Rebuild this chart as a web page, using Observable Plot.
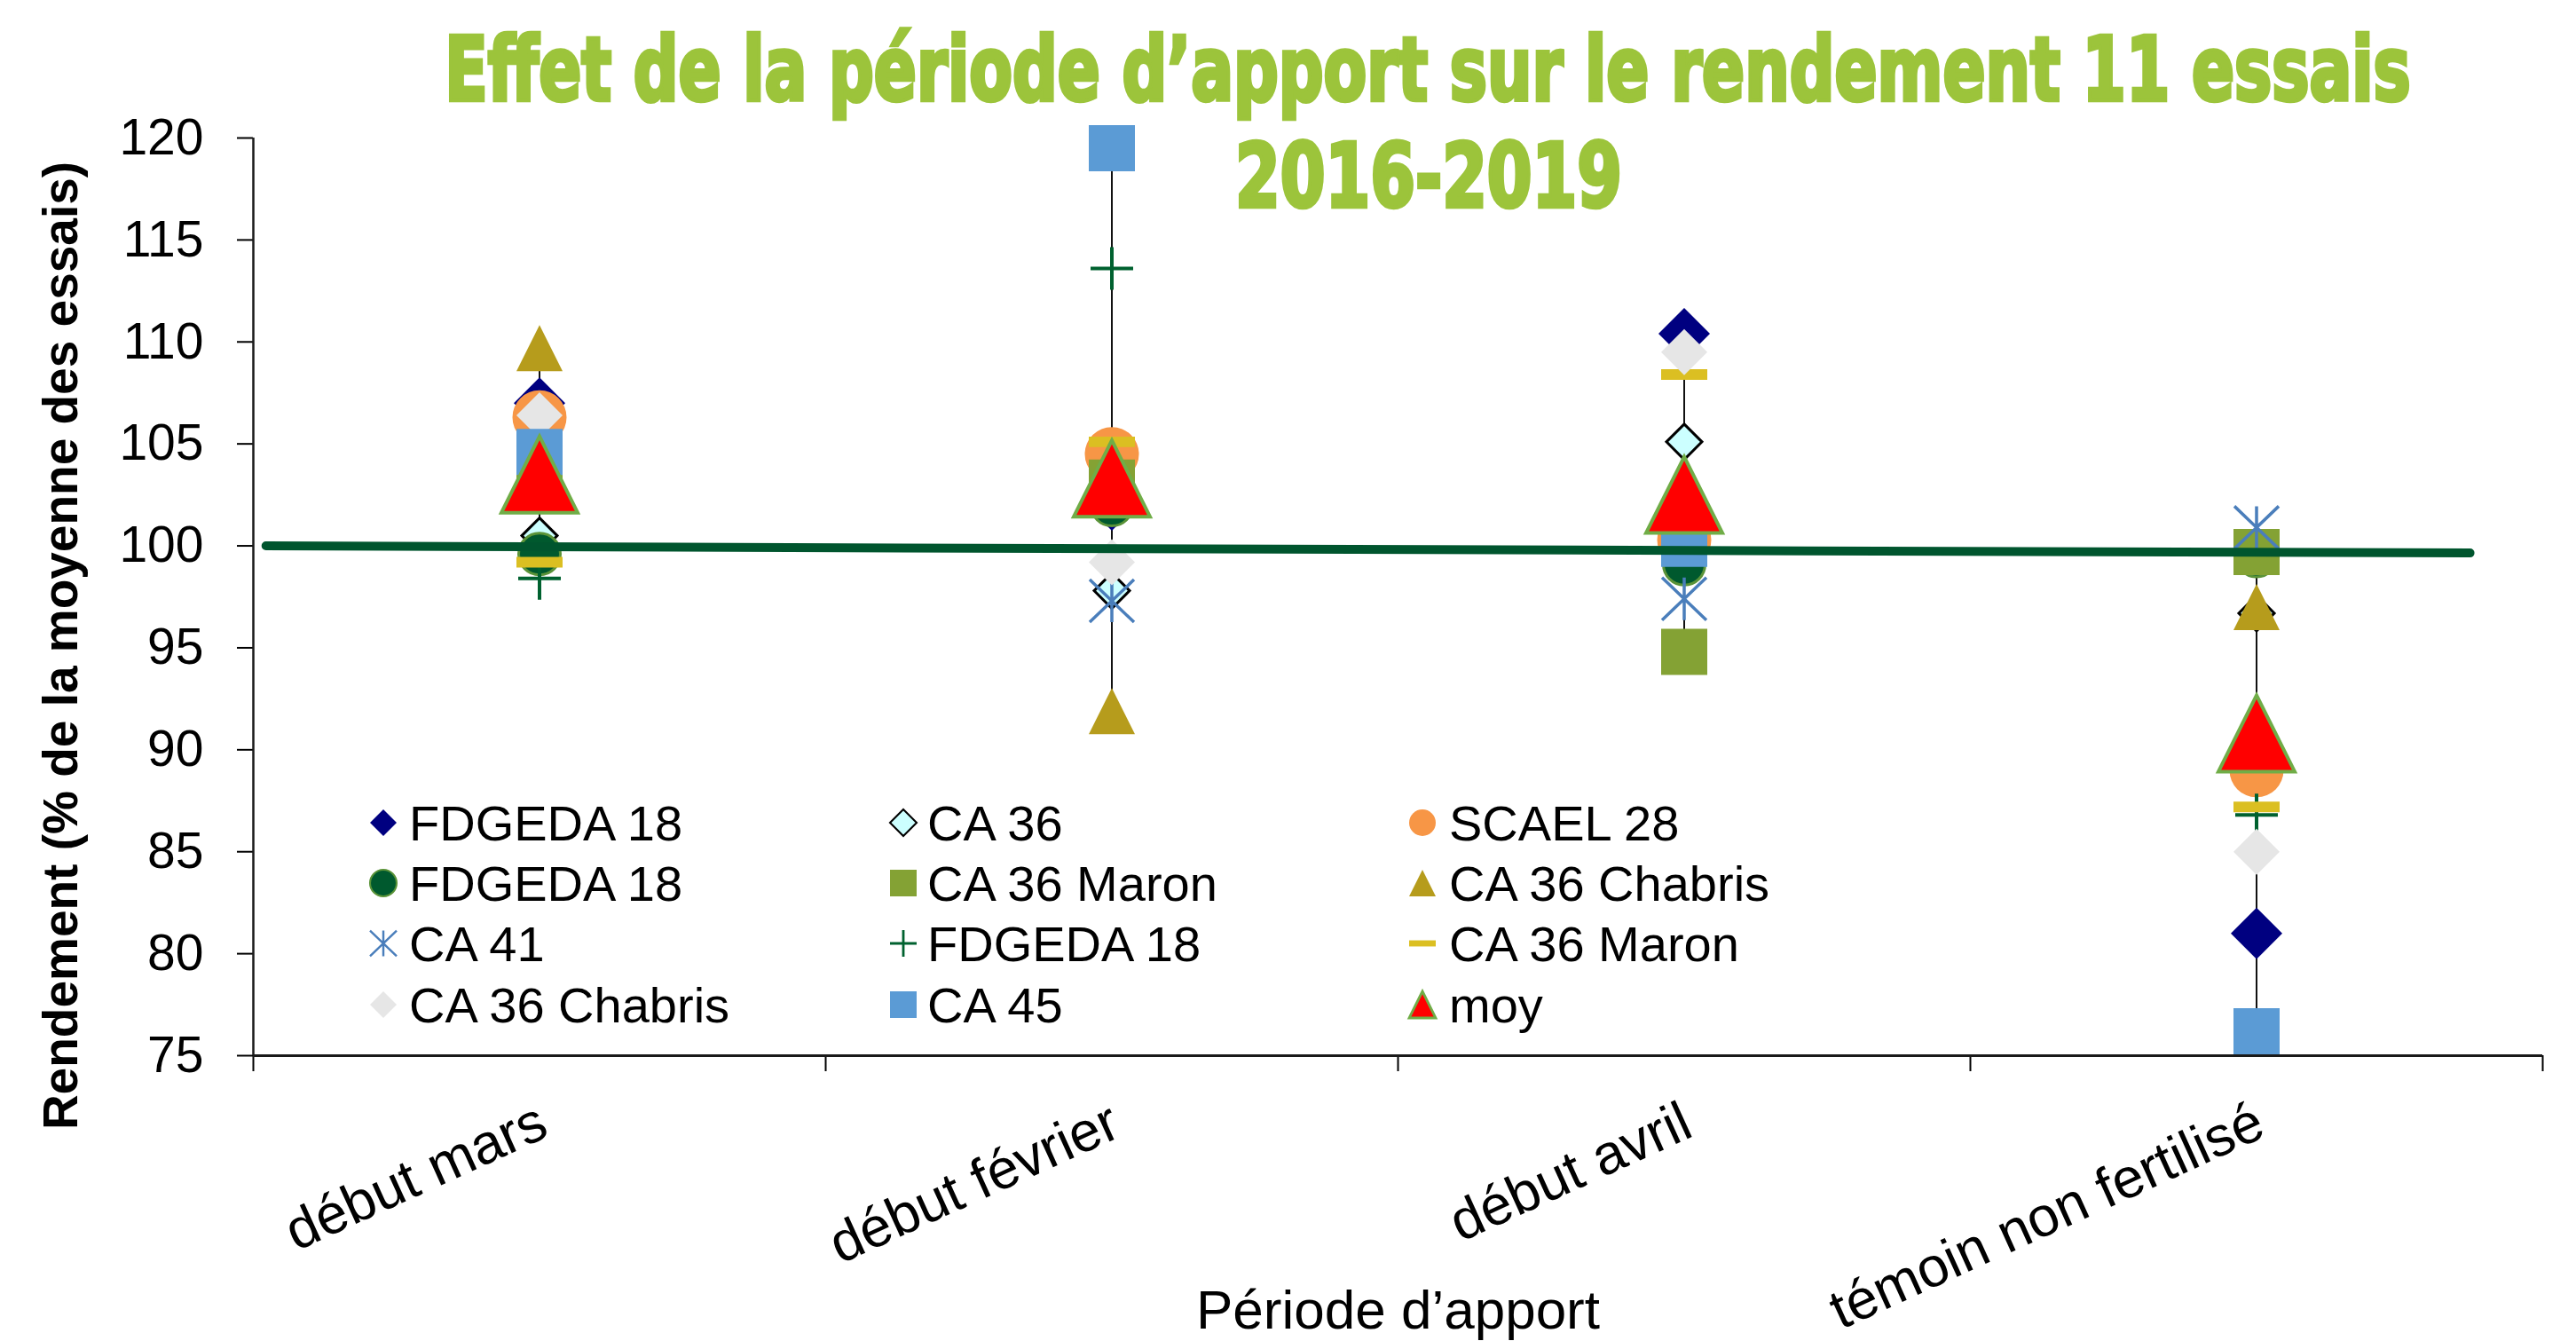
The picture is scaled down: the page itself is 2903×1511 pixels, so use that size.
<!DOCTYPE html>
<html><head><meta charset="utf-8">
<script src="https://cdn.jsdelivr.net/npm/d3@7"></script>
<script src="https://cdn.jsdelivr.net/npm/@observablehq/plot@0.6"></script>
<style>
html,body{margin:0;padding:0;background:#fff;}
#wrap{position:relative;width:2903px;height:1511px;overflow:hidden;background:#fff;}
#chart{position:absolute;left:0;top:0;}
#overlay{position:absolute;left:0;top:0;pointer-events:none;}
</style></head>
<body><div id="wrap"><div id="chart"></div></div>
<script>
// ---------------- data ----------------
const categories = ["début mars", "début février", "début avril", "témoin non fertilisé"];
const seriesNames = ["FDGEDA 18", "CA 36", "SCAEL 28", "FDGEDA 18", "CA 36 Maron", "CA 36 Chabris",
                     "CA 41", "FDGEDA 18", "CA 36 Maron", "CA 36 Chabris", "CA 45", "moy"];
const fdgeda18a    = [107.0, 102.0, 110.4,  81.0];
const ca36         = [100.5,  97.8, 105.1,  96.7];
const scael28      = [106.3, 104.5, 100.3,  89.0];
const fdgeda18b    = [ 99.6, 102.0,  99.1,  99.5];
const ca36Maron    = [102.9, 103.1,  94.8,  99.7];
const ca36Chabris  = [109.7,  91.9, 101.5,  97.0];
const ca41         = [103.9,  97.3,  97.4, 100.9];
const fdgeda18c    = [ 98.4, 113.6, 101.2,  86.8];
const ca36Maron2   = [ 99.2, 105.1, 108.4,  87.2];
const ca36Chabris2 = [106.4,  99.2, 109.5,  85.0];
const ca45         = [104.6, 119.5, 100.1,  76.2];
const moy          = [103.5, 103.3, 102.5,  90.8];
const refLineX = [0.022, 3.873];   // position along the category axis
const refLineY = [100, 99.65];
const yTicks = [75, 80, 85, 90, 95, 100, 105, 110, 115, 120];
const xTickBounds = [0, 1, 2, 3, 4];
const titleLines = ["Effet de la période d’apport sur le rendement 11 essais", "2016-2019"];
const yLabel = "Rendement (% de la moyenne des essais)";
const xLabel = "Période d’apport";

const seriesValues = [fdgeda18a, ca36, scael28, fdgeda18b, ca36Maron, ca36Chabris,
                      ca41, fdgeda18c, ca36Maron2, ca36Chabris2, ca45, moy];

// ---------------- symbols ----------------
const R = s => Math.sqrt(s / Math.PI);
const sym = {
  diamond: {draw(c, s){const r = R(s); c.moveTo(0,-r); c.lineTo(r,0); c.lineTo(0,r); c.lineTo(-r,0); c.closePath();}},
  square:  {draw(c, s){const r = R(s); c.rect(-r,-r,2*r,2*r);}},
  triangle:{draw(c, s){const r = R(s); c.moveTo(0,-r); c.lineTo(r,r); c.lineTo(-r,r); c.closePath();}},
  circle:  {draw(c, s){const r = R(s); c.moveTo(r,0); c.arc(0,0,r,0,2*Math.PI); c.closePath();}},
  dash:    {draw(c, s){const r = R(s); c.rect(-r,-r*0.23,2*r,r*0.46);}},
  plus:    {draw(c, s){const r = R(s); c.moveTo(-r,0); c.lineTo(r,0); c.moveTo(0,-r); c.lineTo(0,r);}},
  star:    {draw(c, s){const r = R(s); const h = r*0.96;
            c.moveTo(-r,-h); c.lineTo(r,h); c.moveTo(r,-h); c.lineTo(-r,h); c.moveTo(0,-h); c.lineTo(0,h);}}
};
const styles = [
  {symbol:"diamond",  r:29,   fill:"#000080"},
  {symbol:"diamond",  r:20,   fill:"#CCFFFF", stroke:"#000000", sw:3},
  {symbol:"circle",   r:30.5, fill:"#F79646"},
  {symbol:"circle",   r:23.5, fill:"#00592E", stroke:"#5A9338", sw:3},
  {symbol:"square",   r:26,   fill:"#84A234"},
  {symbol:"triangle", r:26,   fill:"#B69C1C"},
  {symbol:"star",     r:25,   fill:"none",    stroke:"#4A7EBB", sw:3.5},
  {symbol:"plus",     r:24,   fill:"none",    stroke:"#00612F", sw:4},
  {symbol:"dash",     r:26,   fill:"#DBBF22"},
  {symbol:"diamond",  r:26,   fill:"#E6E6E6"},
  {symbol:"square",   r:26,   fill:"#5B9BD5"},
  {symbol:"triangle", r:43,   fill:"#FF0000", stroke:"#70AD47", sw:4}
];

// ---------------- derived tables ----------------
const rowsBySeries = seriesValues.map(vals => vals.map((v, i) => ({x: i + 0.5, y: v})));
const hiLo = categories.map((c, i) => {
  const vs = seriesValues.map(s => s[i]);
  return {x: i + 0.5, y1: d3.min(vs), y2: d3.max(vs)};
});
const refLine = refLineX.map((x, i) => ({x, y: refLineY[i]}));
const catRows = categories.map((c, i) => ({x: i + 0.5, label: c}));

const FONT = "'Liberation Sans', Arial, Helvetica, sans-serif";

const dotMarks = rowsBySeries.map((rows, k) => {
  const st = styles[k];
  return Plot.dot(rows, {x:"x", y:"y", r: st.r, symbol: sym[st.symbol],
    fill: st.fill, stroke: st.stroke || "none", strokeWidth: st.sw || 0,
    strokeLinejoin: "miter"});
});

const chart = Plot.plot({
  width: 2903, height: 1511,
  marginLeft: 285, marginRight: 38, marginTop: 155, marginBottom: 322,
  style: {fontFamily: FONT, background: "transparent", color: "#000", overflow: "visible"},
  x: {type: "linear", domain: [0, 4]},
  y: {type: "linear", domain: [75, 120]},
  marks: [
    Plot.axisY({ticks: yTicks, tickSize: 18, tickPadding: 38, fontSize: 57, label: null, strokeWidth: 2, tickFormat: d => String(d)}),
    Plot.axisX({ticks: xTickBounds, tickSize: 18, tickFormat: () => "", label: null, strokeWidth: 2}),
    Plot.ruleX([0], {stroke: "#1a1a1a", strokeWidth: 2.5}),
    Plot.ruleY([75], {stroke: "#1a1a1a", strokeWidth: 3}),
    Plot.ruleX(hiLo, {x: "x", y1: "y1", y2: "y2", stroke: "#111", strokeWidth: 2}),
    ...dotMarks,
    Plot.line(refLine, {x: "x", y: "y", stroke: "#00552E", strokeWidth: 10}),
    Plot.text(catRows, {x: "x", frameAnchor: "bottom", text: "label", rotate: -24.5, textAnchor: "end",
      lineAnchor: "top", dx: -6, dy: 49, fontSize: 63, fill: "#000"}),
    Plot.text([xLabel], {frameAnchor: "bottom", textAnchor: "middle", lineAnchor: "bottom", dy: 307, fontSize: 62, fill: "#000"}),
    Plot.text([yLabel], {frameAnchor: "left", textAnchor: "middle", rotate: -90, dx: -216, dy: 55, fontSize: 55, fontWeight: "bold", fill: "#000"})
  ]
});
document.getElementById("chart").appendChild(chart);

// ---------------- overlay: title + legend ----------------
const ns = "http://www.w3.org/2000/svg";
const ov = d3.select("#wrap").append("svg").attr("id", "overlay")
  .attr("width", 2903).attr("height", 1511).attr("xmlns", ns);

const titleColor = "#9CC43B";
const titleSpecs = [{cx: 1609, base: 113, len: 2216}, {cx: 1610, base: 233, len: 436}];
titleLines.forEach((t, i) => {
  const sp = titleSpecs[i];
  const g = ov.append("g");
  const txt = g.append("text").text(t)
    .attr("x", 0).attr("y", 0).attr("text-anchor", "middle")
    .attr("font-family", "'Liberation Sans Narrow', 'DejaVu Sans Condensed', 'Liberation Sans', sans-serif")
    .attr("font-weight", "bold").attr("font-size", 100)
    .attr("fill", titleColor).attr("stroke", titleColor).attr("stroke-width", 4.5).attr("stroke-linejoin", "miter");
  const natural = txt.node().getComputedTextLength() || sp.len;
  const sx = sp.len / natural;
  g.attr("transform", `translate(${sp.cx},${sp.base}) scale(${sx},1)`);
});

const legMarkerX = [432, 1018, 1603];
const legTextX = [461, 1045, 1633];
const legRowY = [927, 995, 1063, 1132];
seriesNames.forEach((name, k) => {
  const col = k % 3, row = Math.floor(k / 3);
  const st = styles[k];
  const p = d3.path();
  const lr = 15;
  sym[st.symbol].draw(p, Math.PI * lr * lr);
  ov.append("path").attr("d", p.toString())
    .attr("transform", `translate(${legMarkerX[col]},${legRowY[row]})`)
    .attr("fill", st.fill).attr("stroke", st.stroke || "none")
    .attr("stroke-width", st.sw ? Math.max(2, st.sw * 0.7) : 0);
  ov.append("text").text(name)
    .attr("x", legTextX[col]).attr("y", legRowY[row] + 20)
    .attr("font-family", FONT).attr("font-size", 56).attr("fill", "#000");
});
</script>
</body></html>
